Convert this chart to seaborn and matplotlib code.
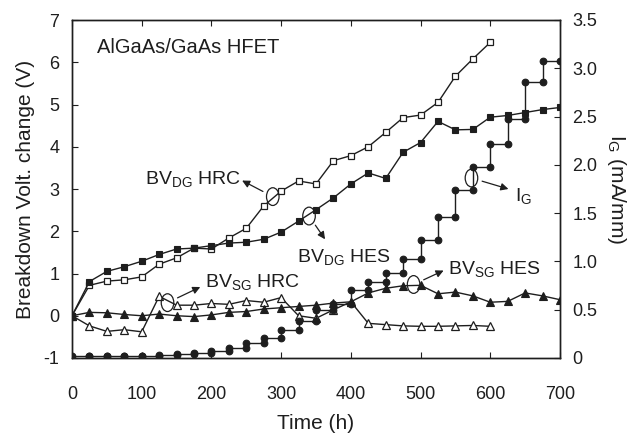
import matplotlib
matplotlib.use('Agg')
import matplotlib.pyplot as plt
import seaborn as sns
from matplotlib.patches import Ellipse

# ---------------- data ----------------
time_hrc = [0, 25, 50, 75, 100, 125, 150, 175, 200, 225, 250, 275, 300, 325, 350,
            375, 400, 425, 450, 475, 500, 525, 550, 575, 600]
time_hes = [0, 25, 50, 75, 100, 125, 150, 175, 200, 225, 250, 275, 300, 325, 350,
            375, 400, 425, 450, 475, 500, 525, 550, 575, 600, 625, 650, 675, 700]

bv_dg_hrc = [0, 0.72, 0.82, 0.85, 0.92, 1.22, 1.37, 1.60, 1.58, 1.84, 2.07, 2.60, 2.95,
             3.19, 3.12, 3.67, 3.79, 4.00, 4.34, 4.69, 4.75, 5.05, 5.67, 6.08, 6.47]
bv_dg_hes = [0, 0.81, 1.05, 1.16, 1.29, 1.45, 1.58, 1.60, 1.66, 1.72, 1.74, 1.81, 1.98,
             2.24, 2.51, 2.79, 3.12, 3.38, 3.25, 3.87, 4.10, 4.60, 4.40, 4.41, 4.70,
             4.74, 4.81, 4.88, 4.93]
bv_sg_hrc = [0, -0.24, -0.37, -0.33, -0.38, 0.46, 0.25, 0.25, 0.29, 0.27, 0.36, 0.32,
             0.43, 0.0, -0.06, 0.14, 0.33, -0.18, -0.21, -0.24, -0.25, -0.25, -0.24,
             -0.23, -0.25]
bv_sg_hes = [0, 0.08, 0.07, 0.03, 0.0, 0.04, 0.0, -0.02, 0.02, 0.08, 0.10, 0.16, 0.19,
             0.22, 0.25, 0.30, 0.33, 0.54, 0.65, 0.71, 0.72, 0.52, 0.56, 0.47, 0.32,
             0.34, 0.54, 0.47, 0.38]
# gate current level held from each time to the next (mA/mm)
ig_levels = [0.02, 0.02, 0.02, 0.02, 0.02, 0.03, 0.04, 0.05, 0.07, 0.10, 0.16, 0.21,
             0.29, 0.38, 0.50, 0.56, 0.70, 0.79, 0.88, 1.03, 1.22, 1.46, 1.74, 1.98,
             2.22, 2.48, 2.86, 3.08]

x_ticks = [0, 100, 200, 300, 400, 500, 600, 700]
y_ticks = [-1, 0, 1, 2, 3, 4, 5, 6, 7]
y2_ticks = [0, 0.5, 1.0, 1.5, 2.0, 2.5, 3.0, 3.5]
y2_ticklabels = ['0', '0.5', '1.0', '1.5', '2.0', '2.5', '3.0', '3.5']

# ---------------- style ----------------
sns.set_style('ticks')
plt.rcParams['font.family'] = ['Liberation Sans', 'DejaVu Sans']
plt.rcParams['mathtext.fontset'] = 'custom'
plt.rcParams['mathtext.rm'] = 'Liberation Sans'
plt.rcParams['mathtext.it'] = 'Liberation Sans:italic'
plt.rcParams['mathtext.bf'] = 'Liberation Sans:bold'
plt.rcParams['axes.unicode_minus'] = False

ink = '#1e1e1e'

fig = plt.figure(figsize=(6.35, 4.4), dpi=100)
ax = fig.add_axes([72 / 635, 1 - 358 / 440, 488 / 635, 338 / 440])
ax2 = ax.twinx()

common = dict(color=ink, linewidth=1.0, estimator=None, sort=False, legend=False)

sns.lineplot(x=time_hrc, y=bv_dg_hrc, ax=ax, marker='s', markersize=4.6,
             markerfacecolor='white', markeredgecolor=ink, markeredgewidth=0.9, **common)
sns.lineplot(x=time_hes, y=bv_dg_hes, ax=ax, marker='s', markersize=4.8,
             markerfacecolor=ink, markeredgecolor=ink, markeredgewidth=0.8, **common)
sns.lineplot(x=time_hrc, y=bv_sg_hrc, ax=ax, marker='^', markersize=5.2,
             markerfacecolor='white', markeredgecolor=ink, markeredgewidth=0.9, **common)
sns.lineplot(x=time_hes, y=bv_sg_hes, ax=ax, marker='^', markersize=5.4,
             markerfacecolor=ink, markeredgecolor=ink, markeredgewidth=0.8, **common)

# staircase for I_G : each level held between consecutive times
ig_x, ig_y = [], []
for i, lev in enumerate(ig_levels):
    ig_x += [time_hes[i], time_hes[i + 1]]
    ig_y += [lev, lev]
sns.lineplot(x=ig_x, y=ig_y, ax=ax2, marker='o', markersize=4.8,
             markerfacecolor=ink, markeredgecolor=ink, markeredgewidth=0.8, **common)

# ---------------- axes ----------------
ax.set_xlim(0, 700)
ax.set_ylim(-1, 7)
ax2.set_ylim(0, 3.5)
ax.set_xticks(x_ticks)
ax.set_yticks(y_ticks)
ax2.set_yticks(y2_ticks)
ax2.set_yticklabels(y2_ticklabels)

ax.tick_params(axis='x', direction='in', length=4, top=True, labelsize=13, pad=20,
               colors=ink, width=0.8)
ax.tick_params(axis='y', direction='in', length=4, right=False, labelsize=13, pad=9,
               colors=ink, width=0.8)
ax2.tick_params(axis='y', direction='in', length=4, labelsize=13, pad=9,
                colors=ink, width=0.8)
for a in (ax, ax2):
    for s in a.spines.values():
        s.set_color(ink)
        s.set_linewidth(1.0)

ax.set_xlabel('Time (h)', fontsize=15, color=ink, labelpad=8)
ax.set_ylabel('Breakdown Volt. change (V)', fontsize=15, color=ink, labelpad=6)
ax2.set_ylabel(r'I$_{\mathrm{G}}$ (mA/mm)', fontsize=15, color=ink, rotation=270,
               labelpad=22)

# ---------------- annotations ----------------
ax.text(36, 6.35, 'AlGaAs/GaAs HFET', fontsize=14.5, color=ink, va='center', ha='left')

arrow = dict(arrowstyle='-|>', color=ink, lw=0.9, mutation_scale=11,
             shrinkA=8, shrinkB=0)
ell_w, ell_h = 18, 0.42

labels = [
    (r'BV$_{\mathrm{DG}}$ HRC', (105, 3.24), (288, 2.82), (244, 3.20)),
    (r'BV$_{\mathrm{DG}}$ HES', (323, 1.40), (340, 2.36), (363, 1.81)),
    (r'BV$_{\mathrm{SG}}$ HRC', (191, 0.80), (137, 0.31), (184, 0.68)),
    (r'BV$_{\mathrm{SG}}$ HES', (540, 1.11), (490, 0.74), (533, 1.07)),
    (r'I$_{\mathrm{G}}$', (636, 2.84), (573, 3.26), (626, 3.00)),
]
for txt, tpos, epos, apos in labels:
    ax.text(tpos[0], tpos[1], txt, fontsize=14, color=ink, va='center', ha='left')
    ax.add_patch(Ellipse(epos, ell_w, ell_h, fill=False, ec=ink, lw=0.9, zorder=5))
    ax.annotate('', xy=apos, xytext=epos, arrowprops=arrow)

fig.savefig('out.png', dpi=100)
